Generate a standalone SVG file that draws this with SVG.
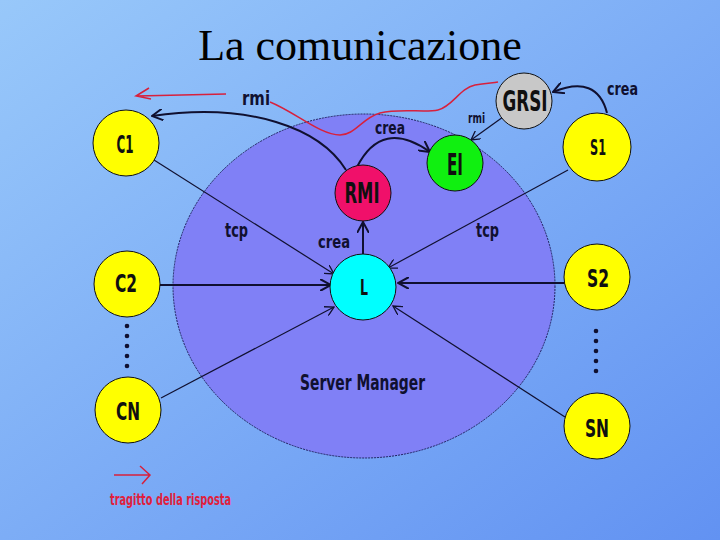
<svg xmlns="http://www.w3.org/2000/svg" width="720" height="540" viewBox="0 0 720 540">
<defs>
<linearGradient id="bg" x1="0" y1="0" x2="1" y2="1">
<stop offset="0" stop-color="#98C8FA"/>
<stop offset="1" stop-color="#6292F2"/>
</linearGradient>
<marker id="ah" viewBox="0 0 10 10" refX="9" refY="5" markerWidth="10" markerHeight="10" markerUnits="userSpaceOnUse" orient="auto">
<path d="M0,0 L9,5 L0,10" fill="none" stroke="#101030" stroke-width="1.3"/>
</marker>
<marker id="ahb" viewBox="0 0 12 12" refX="11" refY="6" markerWidth="12" markerHeight="12" markerUnits="userSpaceOnUse" orient="auto">
<path d="M0,0 L11,6 L0,12" fill="none" stroke="#101030" stroke-width="2"/>
</marker>
<style>
.nd{stroke:#101010;stroke-width:1}
.lb{font-family:"Liberation Sans Narrow","DejaVu Sans Condensed","Arial Narrow",sans-serif;font-weight:bold;fill:#101010;text-anchor:middle}
.tx{font-family:"Liberation Sans Narrow","DejaVu Sans Condensed","Arial Narrow",sans-serif;font-weight:bold;fill:#101030}
.ln{stroke:#101030;fill:none;stroke-width:1.2}
.lnb{stroke:#101030;fill:none;stroke-width:2}
.red{stroke:#D8203C;fill:none;stroke-width:1.5}
</style>
</defs>
<rect width="720" height="540" fill="url(#bg)"/>
<text x="360" y="60" font-family="'Liberation Serif','Times New Roman',serif" font-size="44" text-anchor="middle" fill="#000">La comunicazione</text>

<g id="server-manager">
<ellipse cx="364" cy="286" rx="191" ry="172" fill="#8080F6" stroke="#202060" stroke-width="1" stroke-dasharray="2,1"/>
<text class="tx" x="300" y="390" font-size="21" textLength="125" lengthAdjust="spacingAndGlyphs">Server Manager</text>
</g>

<g id="connectors">
<line class="ln" x1="154" y1="160" x2="334" y2="274" marker-end="url(#ah)"/>
<line class="lnb" x1="160" y1="285" x2="331" y2="285" marker-end="url(#ahb)"/>
<line class="ln" x1="161" y1="398" x2="334" y2="307" marker-end="url(#ah)"/>
<line class="ln" x1="568" y1="170" x2="388" y2="268" marker-end="url(#ah)"/>
<line class="lnb" x1="565" y1="283" x2="398" y2="283" marker-end="url(#ahb)"/>
<line class="ln" x1="565" y1="417" x2="393" y2="306" marker-end="url(#ah)"/>
<line class="lnb" x1="363" y1="254" x2="363" y2="222" marker-end="url(#ahb)"/>
<path class="lnb" d="M346,170 C320,128 250,102 152,116" marker-end="url(#ahb)"/>
<path class="lnb" d="M357,167 Q382,118 430,152" marker-end="url(#ahb)"/>
<path class="lnb" d="M607,113 Q597,74 553,92" marker-end="url(#ahb)"/>
<line class="ln" x1="503" y1="117" x2="471" y2="140" marker-end="url(#ah)"/>
<path class="red" d="M270,102 C295,112 320,135 340,135 C355,135 362,118 380,113 C400,108 425,113 438,110 C452,107 460,88 475,85 C485,83 492,83 498,82"/>
<path class="red" d="M226,94 L137,96 M149,88 L136,96 L151,99"/>
<text class="tx" x="242" y="105" font-size="20" textLength="28" lengthAdjust="spacingAndGlyphs">rmi</text>
<text class="tx" x="375" y="134" font-size="18" textLength="30" lengthAdjust="spacingAndGlyphs">crea</text>
<text class="tx" x="225" y="237" font-size="20" textLength="23" lengthAdjust="spacingAndGlyphs">tcp</text>
<text class="tx" x="318" y="248" font-size="18" textLength="32" lengthAdjust="spacingAndGlyphs">crea</text>
<text class="tx" x="476" y="237" font-size="20" textLength="23" lengthAdjust="spacingAndGlyphs">tcp</text>
<text class="tx" x="468" y="123" font-size="14" textLength="17" lengthAdjust="spacingAndGlyphs">rmi</text>
<text class="tx" x="607" y="95" font-size="18" textLength="31" lengthAdjust="spacingAndGlyphs">crea</text>
</g>

<g id="C1"><circle class="nd" cx="126" cy="143" r="33" fill="#FFFF00"/><text class="lb" x="125" y="153" font-size="24" textLength="17" lengthAdjust="spacingAndGlyphs">C1</text></g>
<g id="C2"><circle class="nd" cx="127" cy="284" r="33" fill="#FFFF00"/><text class="lb" x="126" y="292" font-size="24" textLength="22" lengthAdjust="spacingAndGlyphs">C2</text></g>
<g id="CN"><circle class="nd" cx="128" cy="410" r="33" fill="#FFFF00"/><text class="lb" x="128" y="420" font-size="25" textLength="24" lengthAdjust="spacingAndGlyphs">CN</text></g>
<g id="S1"><circle class="nd" cx="597" cy="147" r="34" fill="#FFFF00"/><text class="lb" x="598" y="155" font-size="22" textLength="16" lengthAdjust="spacingAndGlyphs">S1</text></g>
<g id="S2"><circle class="nd" cx="597" cy="277" r="33" fill="#FFFF00"/><text class="lb" x="598" y="287" font-size="24" textLength="22" lengthAdjust="spacingAndGlyphs">S2</text></g>
<g id="SN"><circle class="nd" cx="597" cy="426" r="33" fill="#FFFF00"/><text class="lb" x="597" y="437" font-size="25" textLength="24" lengthAdjust="spacingAndGlyphs">SN</text></g>
<g id="GRSI"><circle class="nd" cx="524" cy="101" r="28" fill="#C8C8C8"/><text class="lb" x="525" y="111" font-size="28" textLength="45" lengthAdjust="spacingAndGlyphs">GRSI</text></g>
<g id="EI"><circle class="nd" cx="455" cy="163" r="28" fill="#10F010"/><text class="lb" x="455" y="175" font-size="30" textLength="16" lengthAdjust="spacingAndGlyphs">EI</text></g>
<g id="RMI"><circle class="nd" cx="363" cy="193" r="28" fill="#F0106A"/><text class="lb" x="362" y="203" font-size="28" textLength="35" lengthAdjust="spacingAndGlyphs">RMI</text></g>
<g id="L"><circle class="nd" cx="363" cy="287" r="33" fill="#00FFFF"/><text class="lb" x="364" y="295" font-size="21" textLength="8" lengthAdjust="spacingAndGlyphs">L</text></g>

<g id="dots" fill="#101030">
<circle cx="127" cy="326" r="2.3"/><circle cx="127" cy="336" r="2.3"/><circle cx="127" cy="346" r="2.3"/><circle cx="127" cy="356" r="2.3"/><circle cx="127" cy="366" r="2.3"/>
<circle cx="596" cy="331" r="2.3"/><circle cx="596" cy="341" r="2.3"/><circle cx="596" cy="351" r="2.3"/><circle cx="596" cy="361" r="2.3"/><circle cx="596" cy="371" r="2.3"/>
</g>

<g id="legend">
<path class="red" d="M114,475 L150,475 M140,466 L150,475 L142,484" stroke-width="1.3"/>
<text x="110" y="505" font-family="'Liberation Sans Narrow','DejaVu Sans Condensed',sans-serif" font-weight="bold" font-size="15" fill="#E0203C" textLength="121" lengthAdjust="spacingAndGlyphs">tragitto della risposta</text>
</g>
</svg>
